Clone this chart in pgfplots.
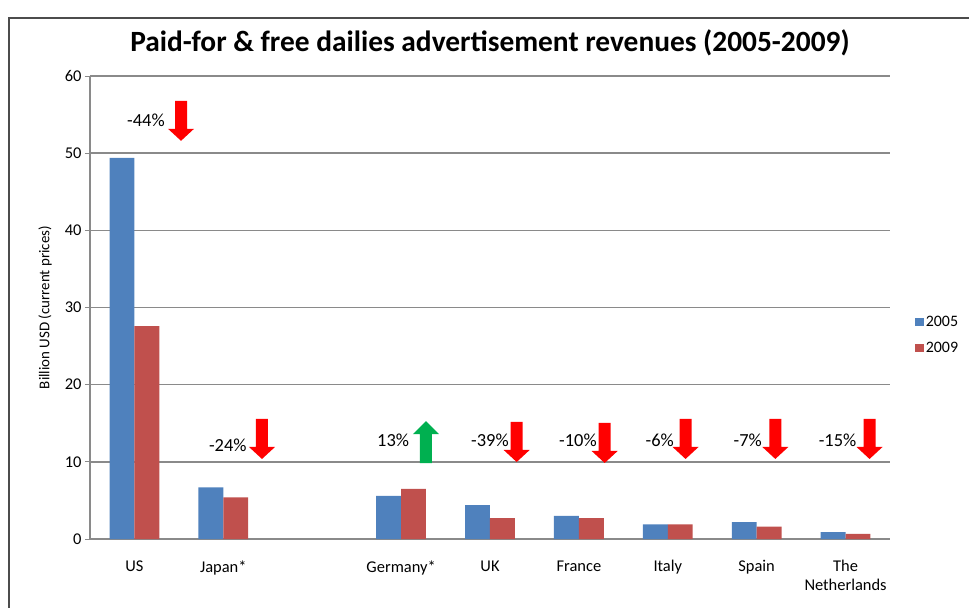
\documentclass[border=0pt]{standalone}
\usepackage{fontspec}
\setmainfont{Carlito}
\usepackage{pgfplots}
\pgfplotsset{compat=1.18}
\definecolor{b05}{HTML}{4F81BD}
\definecolor{r09}{HTML}{C0504D}
\definecolor{gridc}{HTML}{8A8A8A}
\definecolor{upg}{HTML}{00B050}
\newcommand{\downarr}[2]{\fill[red] (axis cs:#1,#2) -- ++(-13bp,12bp) -- ++(7bp,0bp) -- ++(0bp,28bp) -- ++(12bp,0bp) -- ++(0bp,-28bp) -- ++(7bp,0bp) -- cycle;}
\newcommand{\uparr}[2]{\fill[upg] (axis cs:#1,#2) -- ++(13bp,-13bp) -- ++(-7bp,0bp) -- ++(0bp,-29bp) -- ++(-12bp,0bp) -- ++(0bp,29bp) -- ++(-7bp,0bp) -- cycle;}
\newcommand{\lab}[3]{\node[font=\fontsize{18.5}{20}\selectfont, inner sep=0pt] at (axis cs:#1,#2) {#3};}
\begin{document}
\begin{tikzpicture}
\path[use as bounding box] (-90bp,-69bp) rectangle (879bp,539bp);
\draw[gray!60!black, line width=1.5bp] (-81bp,-75bp) -- (-81bp,521bp) -- (885bp,521bp);
\begin{axis}[at={(0,0)}, anchor=south west, scale only axis, width=800bp, height=463bp,
  /pgf/number format/assume math mode=true,
  ybar=0pt, bar width=0.28,
  xmin=-0.5, xmax=8.5, ymin=0, ymax=60, ytick={0,10,...,60},
  enlargelimits=false,
  xtick={0,1,3,4,5,6,7,8},
  xticklabels={US,Japan*,Germany*,UK,France,Italy,Spain,{The\\Netherlands}},
  xticklabel style={align=center, font=\fontsize{16.5}{19}\selectfont, anchor=north, yshift=-13bp},
  yticklabel style={font=\fontsize{16.5}{19}\selectfont},
  major x tick style={draw=none},
  tick align=outside, major tick length=5bp,
  ytick style={gridc, line width=1bp},
  ymajorgrids, grid style={gridc, line width=1.5bp},
  axis x line*=bottom, axis y line*=left,
  axis line style={gridc, line width=1.5bp, -},
  ylabel={Billion USD (current prices)},
  ylabel style={font=\fontsize{15}{17}\selectfont, at={(axis description cs:0,0.5)}, anchor=center, yshift=45bp},
  title={Paid-for \& free dailies advertisement revenues (2005-2009)},
  title style={font=\fontsize{29.5}{34}\selectfont\bfseries, at={(axis description cs:0.5,1)}, anchor=center, yshift=27bp},
  legend style={at={(1.027,0.44)}, anchor=west, draw=none, fill=none, font=\fontsize{16}{18}\selectfont, row sep=10bp},
  legend cell align=left,
  legend image code/.code={\fill[#1] (0bp,-4bp) rectangle (9bp,4bp);},
]
\addplot[fill=b05, draw=none] coordinates {(0,49.4) (1,6.7) (3,5.6) (4,4.4) (5,3.0) (6,1.9) (7,2.2) (8,0.9)};
\addplot[fill=r09, draw=none] coordinates {(0,27.6) (1,5.4) (3,6.5) (4,2.7) (5,2.7) (6,1.9) (7,1.6) (8,0.65)};
\legend{2005,2009}
\downarr{0.524}{51.6}
\downarr{1.435}{10.37}
\uparr{3.28}{15.29}
\downarr{4.30}{9.98}
\downarr{5.29}{9.85}
\downarr{6.20}{10.37}
\downarr{7.21}{10.37}
\downarr{8.27}{10.37}
\lab{0.13}{54.3}{-44\%}
\lab{1.05}{12.2}{-24\%}
\lab{2.91}{12.8}{13\%}
\lab{4.0}{12.8}{-39\%}
\lab{4.99}{12.8}{-10\%}
\lab{5.91}{12.8}{-6\%}
\lab{6.90}{12.8}{-7\%}
\lab{7.91}{12.8}{-15\%}
\end{axis}
\end{tikzpicture}
\end{document}
